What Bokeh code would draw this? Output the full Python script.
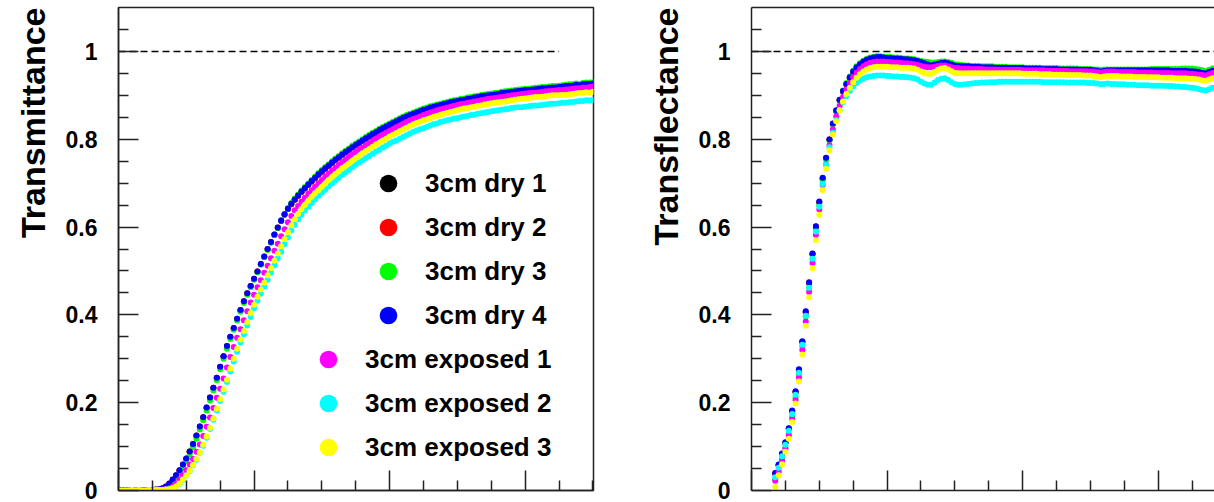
import numpy as np
from bokeh.plotting import figure
from bokeh.models import (Range1d, FixedTicker, LinearAxis, Legend, LegendItem,
                          Title, CustomJSTickFormatter)
from bokeh.layouts import row
from bokeh.embed import file_html
from bokeh.resources import INLINE

# ---------------- data ----------------
SERIES_NAMES = ["3cm dry 1", "3cm dry 2", "3cm dry 3", "3cm dry 4",
                "3cm exposed 1", "3cm exposed 2", "3cm exposed 3"]
SERIES_COLORS = ["#000000", "#ff0000", "#00ff00", "#0000ff",
                 "#ff00ff", "#00ffff", "#ffff00"]

# sample grid (x axis has no labels in the source picture)
LEFT_X_START, RIGHT_X_START, X_STEP = 200.0, 217.5, 2.5
X_LEFT = LEFT_X_START + X_STEP * np.arange(141)
X_RIGHT = RIGHT_X_START + X_STEP * np.arange(131)

# Transmittance, in units of 0.001
T_DRY_1 = [0,0,0,0,1,0,0,0,0,1, 0,1,2,4,8,15,24,34,45,58,
           72,88,105,124,145,166,188,211,233,256, 281,305,328,349,369,390,410,430,448,465,
           481,498,515,532,549,565,582,598,614,628, 641,652,662,671,680,688,696,704,711,719,
           726,733,739,746,752,758,764,770,775,781, 786,791,796,801,806,811,815,820,824,828,
           832,836,840,844,848,851,854,857,860,863, 866,868,871,873,875,877,879,881,883,885,
           886,888,889,891,892,894,895,897,898,899, 900,901,902,904,905,906,907,908,909,910,
           911,911,912,913,914,915,915,916,917,917, 918,919,920,921,921,923,922,924,925,925, 926]
T_DRY_2 = [0,0,1,0,0,1,0,0,1,0, 1,2,3,5,9,16,25,35,46,59,
           73,89,106,125,146,167,189,212,234,257, 282,306,329,350,370,391,411,431,449,466,
           482,499,516,533,550,566,583,599,615,629, 641,652,662,671,680,688,696,704,711,719,
           726,733,739,746,752,758,764,770,775,781, 786,791,796,801,806,811,815,820,824,828,
           832,836,840,844,848,851,854,857,860,863, 866,868,871,873,875,877,879,881,883,885,
           887,888,890,891,893,894,896,897,899,900, 901,902,903,904,906,907,908,909,910,911,
           911,912,913,914,914,915,916,917,917,918, 919,920,920,921,922,923,923,924,925,926, 926]
T_DRY_3 = [0,0,1,0,1,0,0,1,0,1, 0,1,2,4,7,13,21,30,41,53,
           67,82,99,118,139,160,182,205,228,251, 276,300,323,345,366,387,407,427,446,463,
           480,497,514,531,548,565,582,598,615,629, 643,655,665,674,683,691,699,707,715,723,
           730,737,743,750,756,762,768,774,779,785, 790,795,800,805,810,815,819,824,828,832,
           836,840,844,848,852,855,858,861,864,867, 870,872,875,877,879,881,883,885,887,889,
           890,892,893,895,896,898,899,901,902,903, 904,905,906,908,909,910,911,912,913,914,
           915,915,916,917,918,919,919,920,921,921, 922,923,924,925,925,927,926,928,929,929, 930]
T_DRY_4 = [0,1,0,1,0,0,1,0,1,1, 1,2,3,5,9,16,25,35,46,59,
           73,89,106,125,146,167,189,212,234,257, 282,306,329,350,370,391,411,431,449,466,
           482,499,516,533,550,566,583,599,615,629, 642,653,663,672,681,689,697,705,712,720,
           727,734,740,747,753,759,765,771,776,782, 787,792,797,802,807,812,816,821,825,829,
           833,837,841,845,849,852,855,858,861,864, 867,869,872,874,876,878,880,882,884,886,
           887,889,890,892,893,895,896,898,899,900, 901,902,903,905,906,907,908,909,910,911,
           912,912,913,914,915,916,916,917,918,918, 919,920,921,922,922,924,923,925,926,926, 927]
T_EXP_1 = [0,0,0,1,0,1,0,0,1,0, 1,1,1,2,3,5,9,16,25,35,
           46,59,72,88,105,124,145,166,188,211, 232,255,280,304,327,348,367,388,408,428,
           446,463,479,496,512,529,546,562,579,595, 611,625,638,648,658,667,676,684,692,700,
           707,715,722,729,735,742,748,754,760,766, 771,777,781,786,791,796,801,806,810,815,
           819,823,827,831,835,839,843,846,849,852, 855,858,861,863,866,868,870,872,874,876,
           878,880,881,883,884,886,887,889,890,892, 893,894,895,896,897,899,900,901,902,903,
           904,905,906,906,907,908,909,910,910,911, 912,912,913,914,915,916,916,918,917,919, 920]
T_EXP_2 = [0,0,0,0,1,0,1,0,0,1, 0,1,1,1,2,3,5,9,15,24,
           34,44,57,70,86,102,120,140,161,182, 204,225,247,271,294,316,337,356,376,395,
           415,432,448,464,480,496,513,529,544,561, 576,592,605,618,628,638,646,655,663,671,
           678,685,693,699,706,712,719,724,730,736, 742,747,752,757,762,767,772,776,781,785,
           790,794,797,801,805,809,813,817,820,823, 825,828,831,834,836,839,841,843,845,847,
           848,850,852,853,855,856,858,859,861,862, 864,865,866,867,868,869,871,872,873,873,
           874,875,876,877,877,878,879,880,881,881, 882,883,883,884,885,886,887,887,889,888, 890]
T_EXP_3 = [0,0,0,0,1,0,1,0,0,1, 0,1,1,1,2,3,5,9,16,25,
           34,45,58,72,87,104,123,143,164,186, 208,230,252,277,300,323,344,363,384,404,
           423,441,458,473,490,507,523,540,556,573, 588,604,618,630,641,651,660,669,677,684,
           692,699,707,714,721,727,734,739,745,751, 757,762,768,773,778,783,788,792,797,801,
           806,810,814,818,822,826,830,834,837,840, 843,845,848,851,853,856,858,860,862,864,
           866,868,870,871,873,874,876,877,879,880, 882,883,884,885,886,887,889,890,891,892,
           893,894,895,896,896,897,898,899,900,900, 900,901,901,902,903,904,905,905,907,906, 908]

# Transflectance, in units of 0.001
R_DRY_1 = [38,57,82,108,140,180,224,274,338,405, 472,538,600,656,710,756,798,834,864,889,
           909,925,940,953,963,970,976,980,983,985, 986,986,985,984,984,983,983,982,981,981,
           980,979,977,975,972,969,967,969,971,973, 974,972,969,967,966,965,965,965,964,964,
           964,963,963,963,963,962,962,962,962,961, 961,961,961,961,960,960,960,960,960,959,
           959,959,959,959,958,958,958,958,958,958, 957,957,957,957,956,955,953,955,956,956,
           956,956,956,956,956,956,956,956,956,956, 956,956,956,956,956,956,956,955,955,955,
           955,955,954,954,953,952,950,949,952,955, 956]
R_DRY_2 = [39,58,83,109,141,181,225,275,339,407, 473,539,601,657,711,757,799,835,865,889,
           908,924,939,952,962,969,975,979,982,984, 985,985,984,983,983,982,982,981,980,980,
           979,978,976,974,971,968,966,968,970,972, 973,971,968,966,965,964,964,964,963,963,
           963,962,962,962,962,961,961,961,961,960, 960,960,960,960,959,959,959,959,959,958,
           958,958,958,958,957,957,957,957,957,957, 956,956,956,956,955,954,952,954,955,955,
           955,955,955,955,955,955,955,955,955,955, 955,955,955,955,955,955,955,954,954,954,
           954,954,953,953,952,951,949,948,951,954, 955]
R_DRY_3 = [25,46,72,98,128,168,212,264,328,396, 462,528,592,650,706,754,797,834,865,890,
           911,928,943,956,966,973,979,983,986,988, 989,989,988,987,987,986,986,985,984,984,
           983,982,980,978,977,976,975,975,976,977, 977,976,974,971,970,969,968,968,967,967,
           967,966,966,966,966,965,965,965,965,964, 964,964,964,964,963,963,963,963,963,962,
           962,962,962,962,961,961,961,961,961,961, 960,960,960,960,959,959,958,959,959,959,
           959,959,959,959,959,959,959,959,959,959, 959,960,960,960,960,960,960,960,960,960,
           961,961,961,961,960,959,957,955,958,961, 962]
R_DRY_4 = [40,59,84,110,142,182,226,276,340,408, 474,540,602,658,712,758,800,836,866,890,
           910,926,941,954,964,971,977,981,984,986, 987,987,986,985,985,984,984,983,982,982,
           981,980,978,976,973,970,968,970,972,974, 975,973,970,968,967,966,966,966,965,965,
           965,964,964,964,964,963,963,963,963,962, 962,962,962,962,961,961,961,961,961,960,
           960,960,960,960,959,959,959,959,959,959, 958,958,958,958,957,956,954,956,957,957,
           957,957,957,957,957,957,957,957,957,957, 957,957,957,957,957,957,957,956,956,956,
           956,956,955,955,954,953,951,950,953,956, 957]
R_EXP_1 = [22,42,68,95,125,163,206,257,320,385, 452,518,582,640,696,743,786,822,852,876,
           896,913,928,941,952,960,966,971,974,976, 977,977,977,976,976,975,975,974,973,973,
           972,971,969,967,965,964,964,965,967,968, 968,966,964,962,962,961,961,961,960,960,
           960,960,959,959,959,959,958,958,958,958, 958,958,958,957,957,957,957,957,957,957,
           956,956,956,956,956,956,956,955,955,955, 955,955,955,954,954,953,951,953,954,954,
           954,953,953,953,953,953,953,952,952,952, 952,952,951,951,951,951,951,950,950,950,
           950,950,949,949,948,947,946,945,948,951, 952]
R_EXP_2 = [30,52,78,104,136,174,218,268,332,398, 462,528,590,646,698,742,782,815,843,866,
           884,898,910,920,928,934,938,941,943,944, 945,945,945,944,944,943,943,942,942,941,
           940,939,936,931,927,924,924,929,935,938, 939,935,930,926,924,924,925,926,927,928,
           928,929,929,930,930,930,931,931,931,931, 931,931,931,931,931,931,931,931,931,930,
           930,930,930,930,930,930,929,929,929,929, 929,929,928,928,928,927,925,926,927,926,
           926,925,925,925,924,924,924,923,923,923, 923,922,922,922,922,921,921,921,920,920,
           919,919,918,917,916,914,912,911,914,917, 918]
R_EXP_3 = [8,35,60,88,118,156,198,248,310,375, 440,506,570,628,684,732,775,811,841,866,
           886,903,917,930,940,948,954,959,962,964, 965,965,965,965,964,964,964,963,963,963,
           962,961,958,954,951,949,949,953,958,961, 962,959,955,951,950,950,950,950,950,950,
           950,950,950,950,950,950,950,950,950,950, 950,950,950,949,949,949,949,949,948,948,
           948,948,947,947,947,947,946,946,946,946, 946,945,945,945,944,943,941,943,944,944,
           944,944,943,943,943,943,942,942,942,942, 941,941,941,941,940,940,940,940,939,939,
           939,939,938,938,937,936,934,933,936,939, 940]

LEFT_SERIES = [T_DRY_1, T_DRY_2, T_DRY_3, T_DRY_4, T_EXP_1, T_EXP_2, T_EXP_3]
RIGHT_SERIES = [R_DRY_1, R_DRY_2, R_DRY_3, R_DRY_4, R_EXP_1, R_EXP_2, R_EXP_3]

REF_LEVEL = 1.0
REF_X_LEFT = [200, 525]
REF_X_RIGHT = [200, 560]

Y_TICKS = [0, 0.2, 0.4, 0.6, 0.8, 1.0]
Y_TICK_LABELS = ["0", "0.2", "0.4", "0.6", "0.8", "1"]
Y_MINOR = [0.05, 0.1, 0.15, 0.25, 0.3, 0.35, 0.45, 0.5, 0.55,
           0.65, 0.7, 0.75, 0.85, 0.9, 0.95, 1.05]
X_MAJOR = [200, 300, 400, 500]
X_MINOR = [225, 250, 275, 325, 350, 375, 425, 450, 475, 525, 550]

# ---------------- styling ----------------
FONT = "Liberation Sans"
AX = "#222222"
FRAME_H = 483


def style_axis(ax):
    ax.major_tick_in = 20
    ax.major_tick_out = 0
    ax.minor_tick_in = 10
    ax.minor_tick_out = 0
    ax.axis_line_color = AX
    ax.axis_line_width = 1.5
    ax.major_tick_line_color = AX
    ax.minor_tick_line_color = AX
    ax.major_tick_line_width = 1.5
    ax.minor_tick_line_width = 1.5


def make_panel(x_end, frame_w, b_left, b_right, ylabel, outline):
    p = figure(output_backend="svg", toolbar_location=None,
               frame_width=frame_w, frame_height=FRAME_H,
               x_range=Range1d(LEFT_X_START, x_end), y_range=Range1d(0, 1.1),
               min_border_left=b_left, min_border_right=b_right,
               min_border_top=7, min_border_bottom=12,
               background_fill_color="white", border_fill_color="white")
    p.grid.visible = False

    xa = p.below[0]
    xa.ticker = FixedTicker(ticks=X_MAJOR, minor_ticks=X_MINOR)
    xa.formatter = CustomJSTickFormatter(code="return ''")
    xa.major_label_standoff = 0
    style_axis(xa)

    ya = p.left[0]
    ya.ticker = FixedTicker(ticks=Y_TICKS, minor_ticks=Y_MINOR)
    ya.major_label_overrides = {t: s for t, s in zip(Y_TICKS, Y_TICK_LABELS)}
    ya.major_label_text_font = FONT
    ya.major_label_text_font_style = "bold"
    ya.major_label_text_font_size = "23px"
    ya.major_label_text_color = "black"
    ya.major_label_standoff = 21
    style_axis(ya)

    if outline:
        p.outline_line_color = AX
        p.outline_line_width = 1.5
    else:
        p.outline_line_color = None
        top = LinearAxis(ticker=FixedTicker(ticks=[], minor_ticks=[]),
                         formatter=CustomJSTickFormatter(code="return ''"))
        top.major_tick_out = 0
        top.major_tick_in = 0
        top.minor_tick_out = 0
        top.minor_tick_in = 0
        top.major_label_standoff = 0
        top.axis_line_color = AX
        top.axis_line_width = 1.5
        p.add_layout(top, "above")

    title = Title(text=ylabel, align="right", vertical_align="top",
                  text_font=FONT, text_font_style="bold",
                  text_font_size="34px", text_color="black", standoff=18)
    p.add_layout(title, "left")
    return p


# left panel: frame x 118..593
p1 = make_panel(550.4, 475, 118, 27, "Transmittance", True)
p1.line(REF_X_LEFT, [REF_LEVEL, REF_LEVEL], line_color="black",
        line_width=1.5, line_dash="7 4")
renderers = []
for vals, col in zip(LEFT_SERIES, SERIES_COLORS):
    y = np.array(vals) / 1000.0
    r = p1.scatter(X_LEFT[:len(y)], y, size=6, marker="circle",
                   fill_color=col, line_color=None)
    renderers.append(r)

leg_kw = dict(padding=0, margin=0, border_line_color=None,
              background_fill_alpha=0, glyph_width=48, glyph_height=44,
              label_height=44, spacing=0, label_standoff=13,
              label_text_font=FONT, label_text_font_style="bold",
              label_text_font_size="26px", label_text_color="black")
leg1 = Legend(items=[LegendItem(label=SERIES_NAMES[i], renderers=[renderers[i]])
                     for i in range(4)], location=(246, 153), **leg_kw)
leg2 = Legend(items=[LegendItem(label=SERIES_NAMES[i], renderers=[renderers[i]])
                     for i in range(4, 7)], location=(186, 21), **leg_kw)
p1.add_layout(leg1)
p1.add_layout(leg2)

# right panel: frame x 751..1214 (cut at window edge)
p2 = make_panel(541.5, 463, 131, 0, "Transflectance", False)
p2.line(REF_X_RIGHT, [REF_LEVEL, REF_LEVEL], line_color="black",
        line_width=1.5, line_dash="7 4")
for vals, col in zip(RIGHT_SERIES, SERIES_COLORS):
    y = np.array(vals) / 1000.0
    p2.scatter(X_RIGHT[:len(y)], y, size=6, marker="circle",
               fill_color=col, line_color=None)

layout = row(p1, p2)
open("out.html", "w").write(file_html(layout, INLINE))
